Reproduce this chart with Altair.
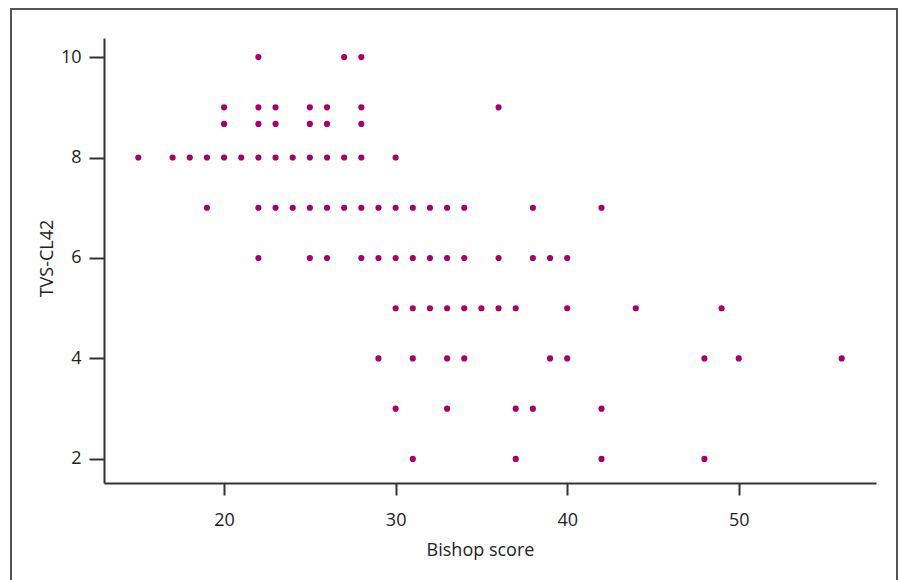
import altair as alt
import pandas as pd

# TVS-CL42 value for each row of points and the Bishop scores in that row
row_y = [10, 9, 8.67, 8, 7, 6, 5, 4, 3, 2]
row_x = [
    [22, 27, 28],
    [20, 22, 23, 25, 26, 28, 36],
    [20, 22, 23, 25, 26, 28],
    [15, 17, 18, 19, 20, 21, 22, 23, 24, 25, 26, 27, 28, 30],
    [19, 22, 23, 24, 25, 26, 27, 28, 29, 30, 31, 32, 33, 34, 38, 42],
    [22, 25, 26, 28, 29, 30, 31, 32, 33, 34, 36, 38, 39, 40],
    [30, 31, 32, 33, 34, 35, 36, 37, 40, 44, 49],
    [29, 31, 33, 34, 39, 40, 48, 50, 56],
    [30, 33, 37, 38, 42],
    [31, 37, 42, 48],
]
x_ticks = [20, 30, 40, 50]
y_ticks = [2, 4, 6, 8, 10]

bishop = []
tvs = []
for yv, xs in zip(row_y, row_x):
    for xv in xs:
        bishop.append(xv)
        tvs.append(yv)
df = pd.DataFrame({"bishop": bishop, "tvs": tvs})

FONT = "Open Sans"
AX = "#333333"

points = alt.Chart(df).mark_circle(size=38, color="#A6006E", opacity=1).encode(
    x=alt.X(
        "bishop:Q",
        scale=alt.Scale(domain=[13, 58], nice=False, zero=False),
        axis=alt.Axis(
            title="Bishop score",
            values=x_ticks,
            grid=False,
            tickSize=12,
            tickWidth=2,
            tickColor=AX,
            domainColor=AX,
            domainWidth=2,
            labelPadding=16,
            labelFont=FONT,
            labelFontSize=18,
            labelColor="#222222",
            titleFont=FONT,
            titleFontSize=18,
            titleFontWeight="normal",
            titleColor="#222222",
            titleX=376,
            titleY=72,
            titleBaseline="alphabetic",
            titleAlign="center",
        ),
    ),
    y=alt.Y(
        "tvs:Q",
        scale=alt.Scale(domain=[1.52, 10.38], nice=False, zero=False),
        axis=alt.Axis(
            title="TVS-CL42",
            values=y_ticks,
            grid=False,
            tickSize=15,
            tickWidth=2,
            tickColor=AX,
            domainColor=AX,
            domainWidth=2,
            labelPadding=8,
            labelFont=FONT,
            labelFontSize=18,
            labelColor="#222222",
            titleFont=FONT,
            titleFontSize=18,
            titleFontWeight="normal",
            titleColor="#222222",
            titleX=-52,
            titleY=220,
            titleAngle=270,
            titleBaseline="alphabetic",
            titleAlign="center",
        ),
    ),
)

FRAME = "#555555"
frame_left = alt.Chart(df).mark_rule(color=FRAME, strokeWidth=1.5).encode(
    x=alt.value(-93), y=alt.value(-29.25), y2=alt.value(560)
)
frame_right = alt.Chart(df).mark_rule(color=FRAME, strokeWidth=1.5).encode(
    x=alt.value(793.2), y=alt.value(-29.25), y2=alt.value(560)
)
frame_top = alt.Chart(df).mark_rule(color=FRAME, strokeWidth=1.5).encode(
    x=alt.value(-93), x2=alt.value(793.2), y=alt.value(-29.25)
)

chart = (
    alt.layer(frame_left, frame_right, frame_top, points)
    .properties(
        width=772,
        height=445,
        autosize=alt.AutoSizeParams(type="none"),
        padding={"left": 96, "top": 30, "right": 22, "bottom": 97},
        background="white",
    )
    .configure_view(stroke=None)
)

chart.save("out.html", embed_options={"renderer": "svg", "actions": False})
